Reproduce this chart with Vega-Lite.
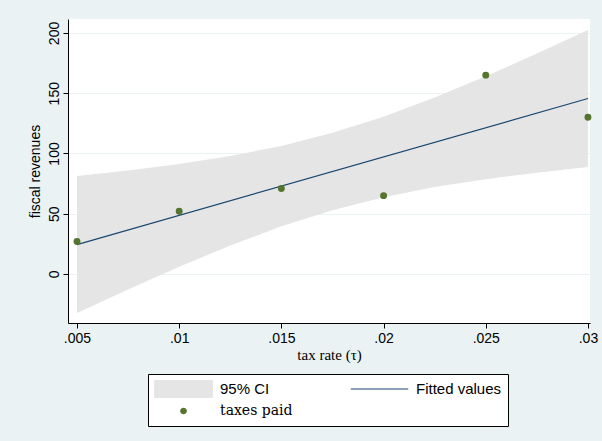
{
  "$schema": "https://vega.github.io/schema/vega-lite/v6.json",
  "width": 522,
  "height": 304,
  "autosize": {"type": "none"},
  "padding": {"left": 68, "top": 19, "right": 12, "bottom": 118},
  "background": "#EAF2F3",
  "view": {"fill": "white", "stroke": null},
  "datasets": {
    "band": [
      {"x": 0.005, "lo": -32.4, "hi": 81.3, "series": "95% CI"},
      {"x": 0.0075, "lo": -12.9, "hi": 85.9, "series": "95% CI"},
      {"x": 0.01, "lo": 6.0, "hi": 91.3, "series": "95% CI"},
      {"x": 0.0125, "lo": 23.6, "hi": 97.9, "series": "95% CI"},
      {"x": 0.015, "lo": 39.5, "hi": 106.3, "series": "95% CI"},
      {"x": 0.0175, "lo": 52.9, "hi": 117.1, "series": "95% CI"},
      {"x": 0.02, "lo": 63.7, "hi": 130.5, "series": "95% CI"},
      {"x": 0.0225, "lo": 72.1, "hi": 146.4, "series": "95% CI"},
      {"x": 0.025, "lo": 78.7, "hi": 164.0, "series": "95% CI"},
      {"x": 0.0275, "lo": 84.1, "hi": 182.9, "series": "95% CI"},
      {"x": 0.03, "lo": 88.7, "hi": 202.4, "series": "95% CI"}
    ],
    "fit": [
      {"x": 0.005, "fit": 24.4, "series": "Fitted values"},
      {"x": 0.03, "fit": 145.6, "series": "Fitted values"}
    ],
    "pts": [
      {"x": 0.005, "y": 27, "series": "taxes paid"},
      {"x": 0.01, "y": 52, "series": "taxes paid"},
      {"x": 0.015, "y": 71, "series": "taxes paid"},
      {"x": 0.02, "y": 65, "series": "taxes paid"},
      {"x": 0.025, "y": 165, "series": "taxes paid"},
      {"x": 0.03, "y": 130, "series": "taxes paid"}
    ]
  },
  "encoding": {
    "x": {
      "field": "x",
      "type": "quantitative",
      "scale": {"domain": [0.00456, 0.0301], "nice": false, "zero": false},
      "axis": {
        "title": "tax rate (τ)",
        "values": [0.005, 0.01, 0.015, 0.02, 0.025, 0.03],
        "labelExpr": "substring(format(datum.value, '.3~f'), 1)",
        "labelFont": "Liberation Sans",
        "labelFontSize": 14,
        "labelColor": "#000000",
        "labelPadding": 3,
        "labelFlush": false,
        "labelOverlap": false,
        "tickSize": 5,
        "tickColor": "#000000",
        "domainColor": "#000000",
        "grid": false,
        "titleFont": "Liberation Serif",
        "titleFontSize": 15,
        "titleFontWeight": "normal",
        "titleColor": "#000000",
        "titlePadding": 2
      }
    },
    "color": {
      "field": "series",
      "type": "nominal",
      "scale": {
        "domain": ["95% CI", "Fitted values", "taxes paid"],
        "range": ["#E5E5E5", "#1A476F", "#55752F"]
      },
      "legend": {
        "title": null,
        "orient": "none",
        "legendX": 80,
        "legendY": 355,
        "direction": "horizontal",
        "columns": 2,
        "columnPadding": 57,
        "rowPadding": 4,
        "padding": 6,
        "clipHeight": 18,
        "symbolSize": 3300,
        "labelOffset": 7,
        "labelFont": "Liberation Sans",
        "labelFontSize": 15,
        "labelColor": "#000000",
        "strokeColor": "#000000",
        "fillColor": "white",
        "encoding": {
          "symbols": {
            "shape": {"value": {"expr": "datum.value === '95% CI' ? 'M-1,-0.29H1V0.29H-1Z' : datum.value === 'Fitted values' ? 'stroke' : 'circle'"}},
            "size": {"value": {"expr": "datum.value === 'taxes paid' ? 30 : 3300"}},
            "fill": {"value": {"expr": "datum.value === '95% CI' ? '#E5E5E5' : datum.value === 'taxes paid' ? '#55752F' : 'transparent'"}},
            "stroke": {"value": {"expr": "datum.value === 'Fitted values' ? '#1A476F' : 'transparent'"}},
            "strokeWidth": {"value": 1.2},
            "opacity": {"value": 1}
          },
          "labels": {
            "font": {"value": {"expr": "datum.value === 'taxes paid' ? 'DejaVu Serif' : 'Liberation Sans'"}},
            "fontSize": {"value": {"expr": "datum.value === 'taxes paid' ? 14 : 15"}}
          }
        }
      }
    }
  },
  "layer": [
    {
      "data": {"name": "band"},
      "mark": {"type": "area", "opacity": 1},
      "encoding": {
        "y": {
          "field": "lo",
          "type": "quantitative",
          "title": "fiscal revenues",
          "scale": {"domain": [-40.7, 211.6], "nice": false, "zero": false},
          "axis": {
            "values": [0, 50, 100, 150, 200],
            "labelAngle": 270,
            "labelAlign": "center",
            "labelBaseline": "bottom",
            "labelFont": "Liberation Sans",
            "labelFontSize": 14,
            "labelColor": "#000000",
            "labelPadding": 2,
            "tickSize": 5,
            "tickColor": "#000000",
            "domainColor": "#000000",
            "grid": true,
            "gridColor": "#EAF2F3",
            "gridWidth": 1,
            "titleFont": "Liberation Sans",
            "titleFontSize": 14,
            "titleFontWeight": "normal",
            "titleColor": "#000000",
            "titlePadding": 5
          }
        },
        "y2": {"field": "hi"}
      }
    },
    {
      "data": {"name": "fit"},
      "mark": {"type": "line", "strokeWidth": 1.2},
      "encoding": {
        "y": {"field": "fit", "type": "quantitative", "title": "fiscal revenues"}
      }
    },
    {
      "data": {"name": "pts"},
      "mark": {"type": "point", "filled": true, "size": 48, "opacity": 1},
      "encoding": {
        "y": {"field": "y", "type": "quantitative", "title": "fiscal revenues"}
      }
    }
  ]
}
